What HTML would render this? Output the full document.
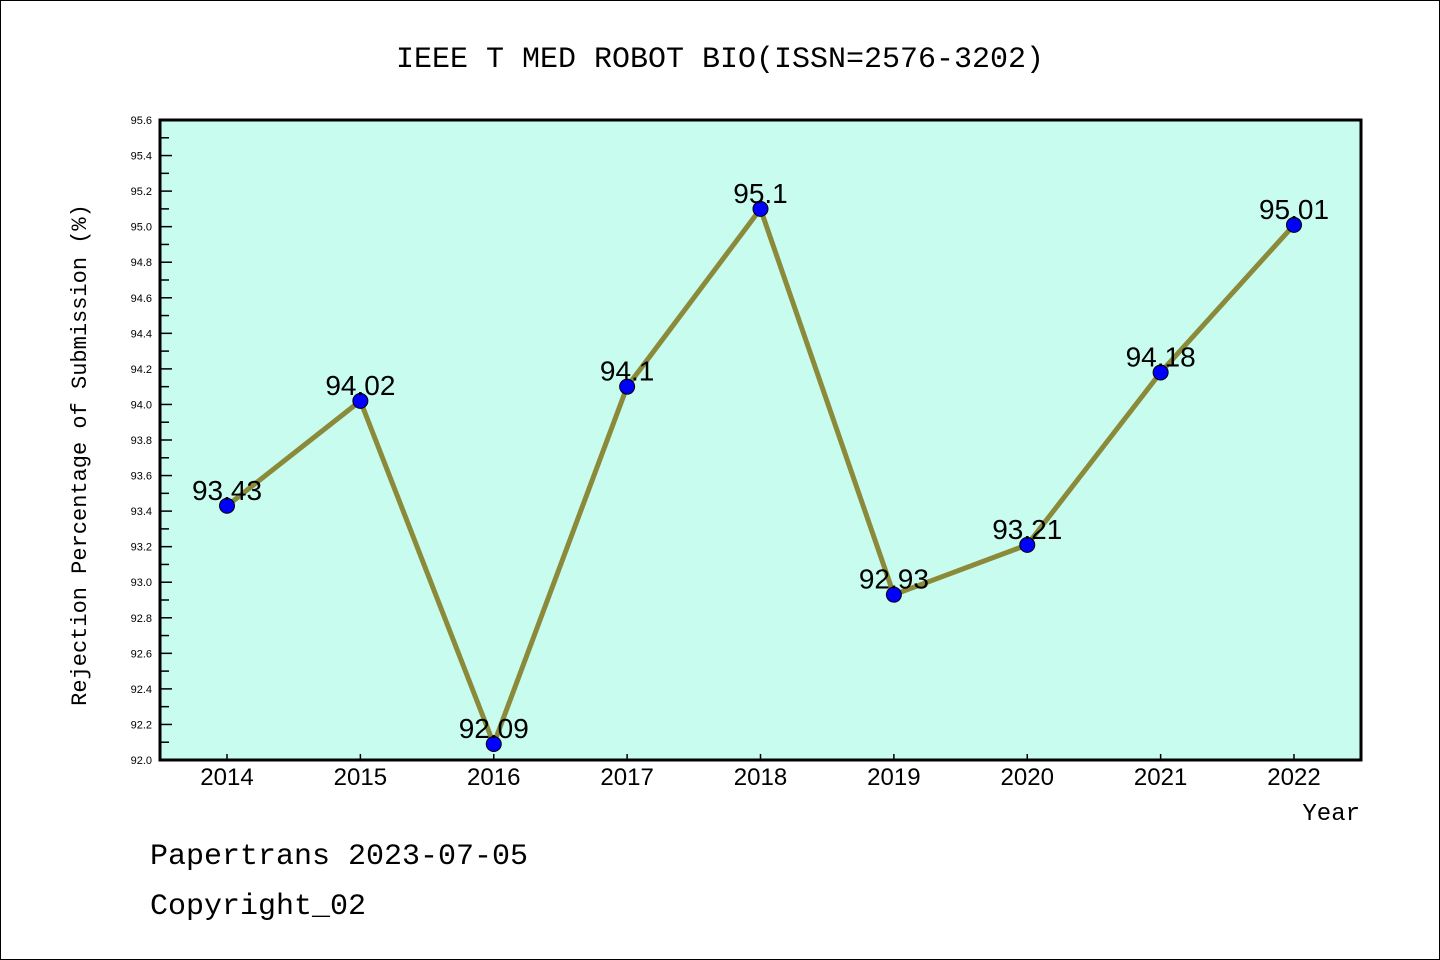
<!DOCTYPE html>
<html><head><meta charset="utf-8"><style>
html,body{margin:0;padding:0;background:#fff;}
svg{display:block;font-family:"Liberation Mono","DejaVu Sans Mono",monospace;}
</style></head><body>
<svg id="chart" width="1440" height="960" xmlns="http://www.w3.org/2000/svg">
<rect x="0.5" y="0.5" width="1439" height="959" fill="#fff" stroke="#000"/>
<text x="720" y="67" font-size="30" text-anchor="middle">IEEE T MED ROBOT BIO(ISSN=2576-3202)</text>
<rect x="160" y="120" width="1201" height="640" fill="#c8fcee"/>
<g id="axes"></g>
<g id="marks"></g>
<rect x="160" y="120" width="1201" height="640" fill="none" stroke="#000" stroke-width="3"/>
<text x="86" y="455" font-size="22" text-anchor="middle" transform="rotate(-90 86 455)">Rejection Percentage of Submission (%)</text>
<text x="1360" y="820" font-size="24" text-anchor="end">Year</text>
<text x="150" y="864" font-size="30">Papertrans 2023-07-05</text>
<text x="150" y="914" font-size="30">Copyright_02</text>
</svg>
<script>
const categories = ["2014","2015","2016","2017","2018","2019","2020","2021","2022"];
const values = [93.43,94.02,92.09,94.1,95.1,92.93,93.21,94.18,95.01];
const valueLabels = ["93.43","94.02","92.09","94.1","95.1","92.93","93.21","94.18","95.01"];
const yTickLabels = ["92.0","92.2","92.4","92.6","92.8","93.0","93.2","93.4","93.6","93.8","94.0","94.2","94.4","94.6","94.8","95.0","95.2","95.4","95.6"];
const yMin = 92.0, yMax = 95.6;
const NS = "http://www.w3.org/2000/svg";
function yScale(v){return 760 - (v - yMin)/(yMax - yMin)*640;}
function xScale(i){return 227 + i*(1294-227)/(categories.length-1);}
function mk(tag, attrs, parent){const e=document.createElementNS(NS,tag);for(const k in attrs)e.setAttribute(k,attrs[k]);parent.appendChild(e);return e;}
const axes=document.getElementById('axes'), marks=document.getElementById('marks');
yTickLabels.forEach((lab)=>{
  const v=parseFloat(lab), y=yScale(v);
  const t=mk('line',{x1:160,x2:172,y1:y,y2:y,stroke:'#000','stroke-width':1.5},axes);
  
  
  const tx=mk('text',{x:152,y:y+4,'font-size':11,'text-anchor':'end','font-family':'Liberation Sans, sans-serif'},axes);
  tx.textContent=lab;
  
  
  if(v<yMax){const ym=yScale(v+0.1);
    const m=mk('line',{x1:160,x2:169,y1:ym,y2:ym,stroke:'#000','stroke-width':1.5},axes);
    
    }
});
categories.forEach((c,i)=>{
  const x=xScale(i);
  const t=mk('line',{x1:x,x2:x,y1:760,y2:754,stroke:'#000','stroke-width':1.5},axes);
  
  
  const tx=mk('text',{x:x,y:785,'font-size':24,'text-anchor':'middle','font-family':'Liberation Sans, sans-serif'},axes);
  tx.textContent=c;
  
  
});
const pts=values.map((v,i)=>xScale(i)+','+yScale(v)).join(' ');
const line=mk('polyline',{points:pts,fill:'none',stroke:'#8b8a3a','stroke-width':5,'stroke-linejoin':'round'},marks);


values.forEach((v,i)=>{
  const c=mk('circle',{cx:xScale(i),cy:yScale(v),r:7.5,fill:'#0000ff',stroke:'#000','stroke-width':1},marks);
  
  
  const t=mk('text',{x:xScale(i),y:yScale(v)-6,'font-size':28,'text-anchor':'middle','font-family':'Liberation Sans, sans-serif'},marks);
  t.textContent=valueLabels[i];
  
  
});
</script>
</body></html>
